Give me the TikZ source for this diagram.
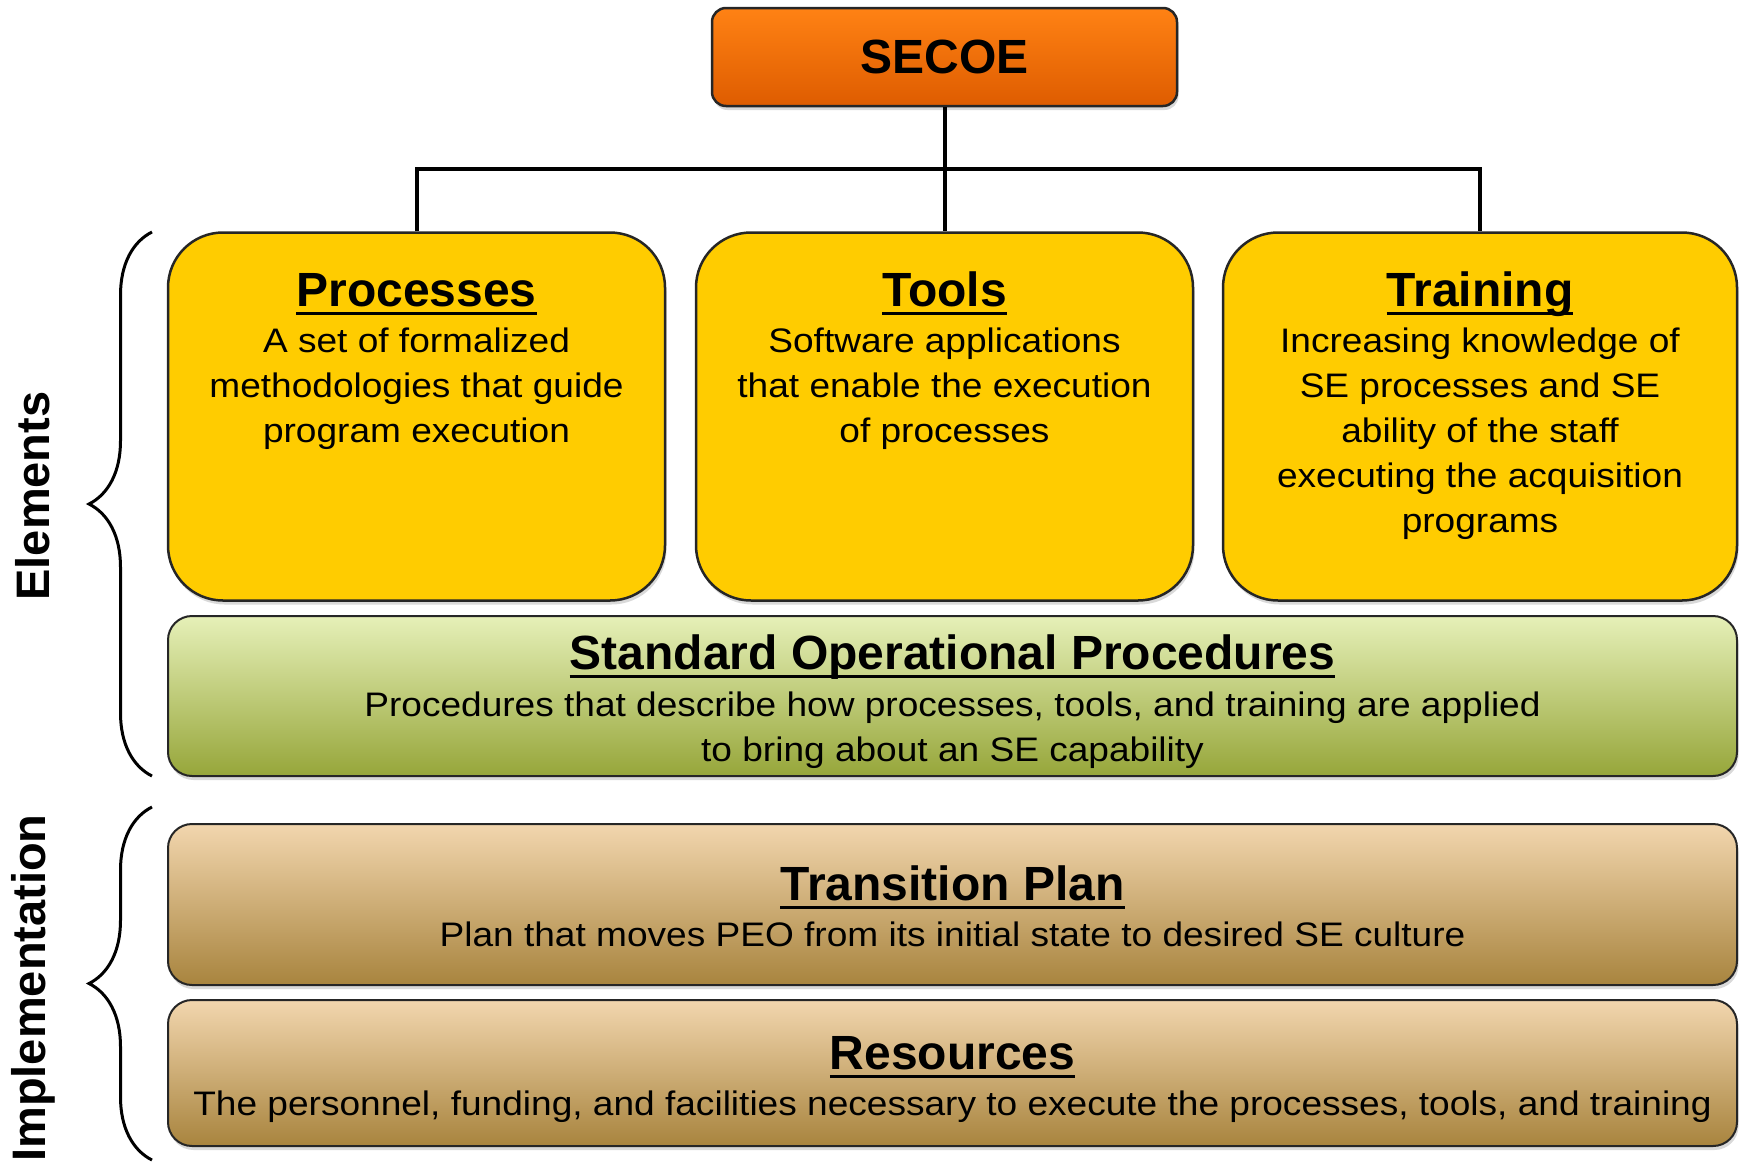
\documentclass[tikz,border=0pt]{standalone}
\usepackage{fontspec}
\setmainfont{Liberation Sans}
\newfontfamily\bodyfont[FakeStretch=1.09]{Liberation Sans}
\usetikzlibrary{positioning,shadows,decorations.pathreplacing}

\definecolor{secoeTop}{RGB}{255,130,20}
\definecolor{secoeBot}{RGB}{222,92,0}
\definecolor{elemYellow}{RGB}{255,204,0}
\definecolor{sopTop}{RGB}{230,240,184}
\definecolor{sopBot}{RGB}{150,166,58}
\definecolor{implTop}{RGB}{242,214,174}
\definecolor{implBot}{RGB}{168,132,62}

% bold underlined heading
\newcommand{\boxtitle}[1]{\setbox0\hbox{\rmfamily\fontsize{48}{48}\selectfont\bfseries #1}\rlap{\rule[-9pt]{\wd0}{3.2pt}}\box0}

\begin{document}
\begin{tikzpicture}[x=1pt, y=-1pt,
    shade/.style={drop shadow={shadow xshift=1.5pt, shadow yshift=-4pt, opacity=0.3}},
    topbox/.style={draw=black!85, line width=2.5pt, rounded corners=14pt, top color=secoeTop, bottom color=secoeBot, minimum width=465pt, minimum height=98pt, font=\fontsize{48}{48}\selectfont\bfseries, shade},
    element/.style={draw=black!85, line width=2.5pt, rounded corners=55pt, fill=elemYellow, minimum height=368pt, shade},
    band/.style={draw=black!85, line width=2pt, rounded corners=24pt, minimum width=1569pt, shade},
    sop/.style={band, top color=sopTop, bottom color=sopBot, minimum height=160pt},
    impl/.style={band, top color=implTop, bottom color=implBot},
    boxtext/.style={anchor=north, inner sep=0pt, align=center, font=\bodyfont\fontsize{34}{45}\selectfont},
    side/.style={rotate=90, inner sep=0pt, font=\fontsize{47}{47}\selectfont\bfseries},
    conn/.style={line width=4pt},
    curly/.style={decorate, decoration={brace, amplitude=63pt}, line width=3pt}
]
\useasboundingbox (0,0) rectangle (1744,1165);

% Top of the hierarchy
\node[topbox] (secoe) at (944.5,57) {SECOE};

% Elements
\node[element, minimum width=497pt] (proc) at (416.5,416.5) {};
\node[element, minimum width=497pt] (tools) at (944.5,416.5) {};
\node[element, minimum width=514pt] (train) at (1480,416.5) {};
\node[sop] (sop) at (952.5,696) {};

% Implementation
\node[impl, minimum height=161pt] (trans) at (952.5,904.5) {};
\node[impl, minimum height=146pt] (res) at (952.5,1073) {};

% Box texts
\node[boxtext, below=39pt of proc.north] (procText) {\rule{0pt}{36pt}\boxtitle{Processes}\\[1pt]
    A set of formalized\\ methodologies that guide\\ program execution};
\node[boxtext, below=39pt of tools.north] (toolsText) {\rule{0pt}{36pt}\boxtitle{Tools}\\[1pt]
    Software applications\\ that enable the execution\\ of processes};
\node[boxtext, below=39pt of train.north] (trainText) {\rule{0pt}{36pt}\boxtitle{Training}\\[1pt]
    Increasing knowledge of\\ SE processes and SE\\ ability of the staff\\ executing the acquisition\\ programs};
\node[boxtext, below=18pt of sop.north] (sopText) {\rule{0pt}{36pt}\boxtitle{Standard Operational Procedures}\\[2pt]
    Procedures that describe how processes, tools, and training are applied\\ to bring about an SE capability};
\node[boxtext, below=41pt of trans.north] (transText) {\rule{0pt}{36pt}\boxtitle{Transition Plan}\\[1pt]
    Plan that moves PEO from its initial state to desired SE culture};
\node[boxtext, below=34pt of res.north] (resText) {\rule{0pt}{36pt}\boxtitle{Resources}\\[1pt]
    The personnel, funding, and facilities necessary to execute the processes, tools, and training};

% Connectors
\coordinate (bus) at (944.5,169);
\draw[conn] (secoe.south) -- (tools.north);
\draw[conn] (proc.north) |- (bus) -| (train.north);

% Braces and side labels
\coordinate (elemLow) at (152,776);
\coordinate (elemHigh) at (152,232);
\coordinate (implLow) at (152,1160);
\coordinate (implHigh) at (152,807);
\draw[curly] (elemLow) -- (elemHigh);
\draw[curly] (implLow) -- (implHigh);
\node[side] (elemLabel) at (33,496) {Elements};
\node[side] (implLabel) at (33,988) {Implementation};

\end{tikzpicture}
\end{document}
